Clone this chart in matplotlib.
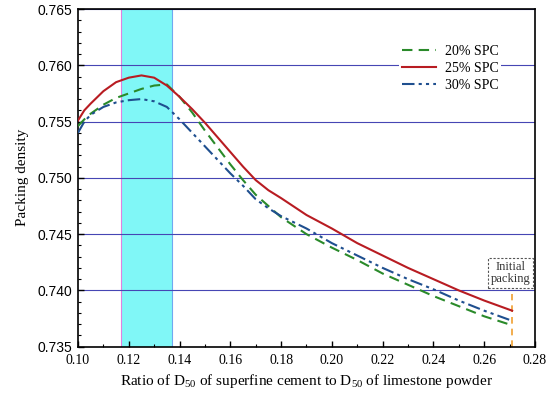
import numpy as np
import matplotlib
matplotlib.use('Agg')
import matplotlib.pyplot as plt
from matplotlib.ticker import MultipleLocator, FormatStrFormatter

plt.rcParams['font.family'] = 'Liberation Serif'
plt.rcParams['mathtext.fontset'] = 'custom'
plt.rcParams['mathtext.rm'] = 'Liberation Serif'
plt.rcParams['mathtext.it'] = 'Liberation Serif:italic'

# ratio of D50 values
ratio = [0.100, 0.1025, 0.105, 0.110, 0.115, 0.120, 0.125, 0.130, 0.135, 0.140, 0.145,
         0.150, 0.155, 0.160, 0.165, 0.170, 0.175, 0.180, 0.190, 0.200, 0.210,
         0.220, 0.230, 0.240, 0.250, 0.260, 0.271]

spc20 = [0.7546, 0.7552, 0.7557, 0.7565, 0.7571, 0.7575, 0.7579, 0.7582, 0.7583, 0.7572, 0.7558,
         0.7542, 0.7527, 0.7512, 0.7498, 0.7485, 0.7475, 0.7465, 0.7450, 0.7438, 0.7427,
         0.7415, 0.7405, 0.7395, 0.7386, 0.7377, 0.7369]

spc25 = [0.7551, 0.7560, 0.7566, 0.7577, 0.7585, 0.7589, 0.7591, 0.7589, 0.7582, 0.7572, 0.7561,
         0.7549, 0.7536, 0.7523, 0.7510, 0.7498, 0.7489, 0.7482, 0.7467, 0.7455, 0.7442,
         0.7431, 0.7420, 0.7410, 0.7400, 0.7391, 0.7382]

spc30 = [0.7540, 0.7550, 0.7556, 0.7563, 0.7567, 0.7569, 0.7570, 0.7568, 0.7563, 0.7552, 0.7540,
         0.7528, 0.7516, 0.7504, 0.7493, 0.7481, 0.7473, 0.7466, 0.7455, 0.7442, 0.7431,
         0.7420, 0.7410, 0.7401, 0.7391, 0.7382, 0.7373]

band = (0.117, 0.137)   # optimal range
init_x = 0.271          # initial packing ratio

fig = plt.figure(figsize=(5.5, 3.97), dpi=100)
ax = fig.add_axes([0.1418, 0.1267, 0.8309, 0.8506])

ax.axvspan(band[0], band[1], facecolor='#80f7f7', edgecolor='none', zorder=0)
ax.axvline(band[0], color='#e080e0', lw=0.8, zorder=0.5)
ax.axvline(band[1], color='#70a8f0', lw=0.8, zorder=0.5)

for yv in np.arange(0.740, 0.7651, 0.005):
    ax.axhline(yv, color='#4646b4', lw=0.8, zorder=1)

ax.plot(ratio, spc20, color='#2a8a2a', lw=1.5, dashes=(5, 3), label='20% SPC', zorder=3)
ax.plot(ratio, spc25, color='#b81c22', lw=1.5, label='25% SPC', zorder=3)
ax.plot(ratio, spc30, color='#1f4f8f', lw=1.5, dashes=(6, 2, 1.5, 2, 1.5, 2), label='30% SPC', zorder=3)

ax.axvline(init_x, ymax=0.155, color='#f0a030', lw=1.2, dashes=(4, 3), zorder=2)
ax.text(init_x - 0.0005, 0.74155, 'Initial\npacking', ha='center', va='center', fontsize=9,
        color='#333333', linespacing=1.05,
        bbox=dict(boxstyle='square,pad=0.2', fc='white', ec='#555555', ls=(0, (2, 1.5)), lw=0.8))

ax.set_xlim(0.10, 0.28)
ax.set_ylim(0.735, 0.765)
ax.xaxis.set_major_locator(MultipleLocator(0.02))
ax.xaxis.set_minor_locator(MultipleLocator(0.01))
ax.yaxis.set_major_locator(MultipleLocator(0.005))
ax.yaxis.set_minor_locator(MultipleLocator(0.001))
ax.xaxis.set_major_formatter(FormatStrFormatter('%.2f'))
ax.yaxis.set_major_formatter(FormatStrFormatter('%.3f'))
ax.tick_params(which='both', direction='in', top=False, right=False)
ax.tick_params(which='major', length=4, width=1)
ax.tick_params(which='minor', length=2.5, width=0.8)
ax.tick_params(axis='x', labelsize=10, pad=5)
ax.tick_params(axis='y', labelsize=10, pad=4)
for lab in ax.get_yticklabels():
    lab.set_fontfamily('Liberation Sans')
for sp in ax.spines.values():
    sp.set_linewidth(1.2)

ax.set_xlabel(r'Ratio of D$_{50}$ of superfine cement to D$_{50}$ of limestone powder', fontsize=11, labelpad=4)
ax.set_ylabel('Packing density', fontsize=11, labelpad=6)

leg = ax.legend(loc='center', bbox_to_anchor=(0.814, 0.824), fontsize=10, frameon=True,
                facecolor='white', edgecolor='none', framealpha=1, fancybox=False,
                handlelength=2.5, labelspacing=0.3, borderpad=0.2, handletextpad=0.6)
leg.set_zorder(4)

fig.savefig('out.png', dpi=100)
